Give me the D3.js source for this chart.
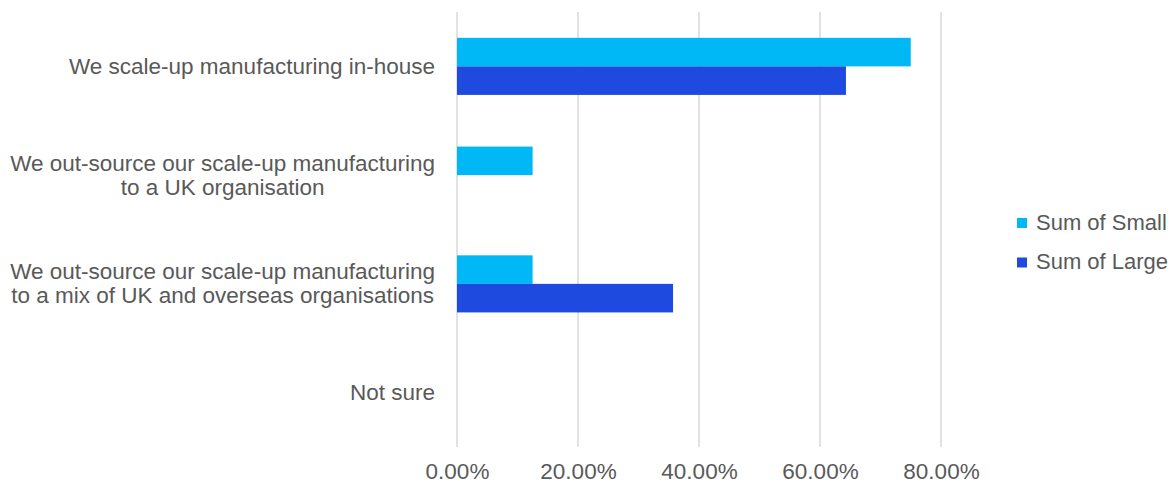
<!DOCTYPE html>
<html>
<head>
<meta charset="utf-8">
<script src="https://cdn.jsdelivr.net/npm/d3@7"></script>
<style>
  html, body { margin: 0; padding: 0; background: #fff; }
  svg text { font-family: "Liberation Sans", Arial, sans-serif; fill: #595959; }
</style>
</head>
<body>
<svg id="chart" width="1176" height="486"></svg>
<script>
// Survey responses: how scale-up manufacturing is handled
const categories = [
  ["We scale-up manufacturing in-house"],
  ["We out-source our scale-up manufacturing", "to a UK organisation"],
  ["We out-source our scale-up manufacturing", "to a mix of UK and overseas organisations"],
  ["Not sure"]
];
const seriesNames = ["Sum of Small", "Sum of Large"];
const smallValues = [0.75, 0.125, 0.125, 0];
const largeValues = [0.6429, 0, 0.3571, 0];
const xTicks = [0, 0.2, 0.4, 0.6, 0.8];
const colors = ["#00B8F5", "#1F4AE0"];

const svg = d3.select("#chart");
const plot = { left: 457, right: 941, top: 12, bottom: 447 };
const fontSize = 22.5;

const x = d3.scaleLinear().domain([0, 0.8]).range([plot.left, plot.right]);
const y = d3.scaleBand().domain(d3.range(categories.length))
  .range([plot.top, plot.bottom]).paddingInner(0.475).paddingOuter(0.2375);
const ySub = d3.scaleBand().domain([0, 1]).range([0, y.bandwidth()]);

// vertical gridlines
svg.append("g").selectAll("line").data(xTicks).join("line")
  .attr("x1", d => x(d)).attr("x2", d => x(d))
  .attr("y1", plot.top).attr("y2", plot.bottom)
  .attr("stroke", "#D9D9D9").attr("stroke-width", 1.5);

// bars
const series = [smallValues, largeValues];
series.forEach((vals, s) => {
  svg.append("g").selectAll("rect").data(vals).join("rect")
    .attr("x", x(0))
    .attr("y", (d, i) => y(i) + ySub(s))
    .attr("width", d => x(d) - x(0))
    .attr("height", ySub.bandwidth())
    .attr("fill", colors[s]);
});

// x axis tick labels
const xAxis = d3.axisBottom(x).tickValues(xTicks).tickSize(0).tickPadding(0)
  .tickFormat(d => (d * 100).toFixed(2) + "%");
const gx = svg.append("g").attr("transform", `translate(0, ${plot.bottom + 32})`).call(xAxis);
gx.select(".domain").remove();
gx.selectAll("text").attr("font-size", fontSize).attr("fill", "#595959")
  .attr("font-family", "Liberation Sans, Arial, sans-serif").attr("dy", "0");

// category labels: lines centred on each other, block right-aligned
const labelRight = 435;
const lineH = 24;
categories.forEach((lines, i) => {
  const cy = y(i) + y.bandwidth() / 2;
  const g = svg.append("g");
  const texts = g.selectAll("text").data(lines).join("text")
    .attr("font-size", fontSize)
    .attr("text-anchor", "middle")
    .attr("y", (d, j) => cy + (j - (lines.length - 1) / 2) * lineH + 7.5)
    .text(d => d);
  const maxW = d3.max(texts.nodes(), n => n.getComputedTextLength());
  texts.attr("x", labelRight - maxW / 2);
});

// legend
const legend = svg.append("g").selectAll("g").data(seriesNames).join("g")
  .attr("transform", (d, i) => `translate(1017, ${223 + i * 39.5})`);
legend.append("rect").attr("x", 0).attr("y", -5).attr("width", 10).attr("height", 10)
  .attr("fill", (d, i) => colors[i]);
legend.append("text").attr("x", 19).attr("y", 6.5).attr("font-size", 22).text(d => d);
</script>
</body>
</html>
